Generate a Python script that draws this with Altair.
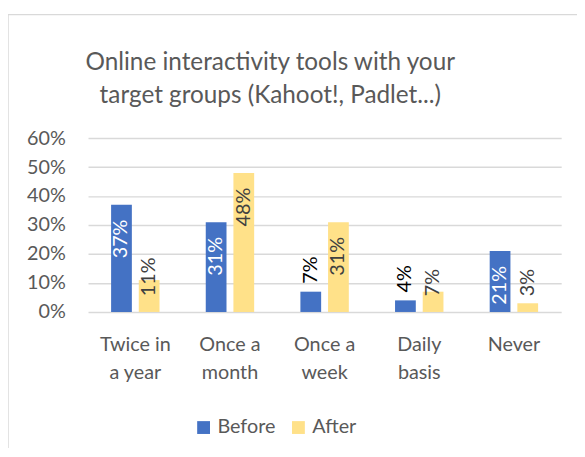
import altair as alt
import pandas as pd

categories = ["Twice in a year", "Once a month", "Once a week", "Daily basis", "Never"]
category_lines = [["Twice in", "a year"], ["Once a", "month"], ["Once a", "week"], ["Daily", "basis"], ["Never"]]
series = ["Before", "After"]
before = [0.37, 0.31, 0.07, 0.04, 0.21]
after = [0.11, 0.48, 0.31, 0.07, 0.03]
colors = ["#4472C4", "#FFE189"]
y_ticks = [0, 0.1, 0.2, 0.3, 0.4, 0.5, 0.6]
title_lines = ["Online interactivity tools with your", "target groups (Kahoot!, Padlet...)"]

rows = []
for i, c in enumerate(categories):
    rows.append({"category": c, "series": "Before", "value": before[i]})
    rows.append({"category": c, "series": "After", "value": after[i]})
df = pd.DataFrame(rows)

# label expression for wrapped category names
expr = "''"
for c, lines in zip(reversed(categories), reversed(category_lines)):
    arr = "[" + ",".join("'" + l + "'" for l in lines) + "]"
    expr = f"datum.label == '{c}' ? {arr} : ({expr})"

FONT = "Lato"
GRAY = "#595959"

x_enc = alt.X(
    "category:N",
    sort=categories,
    title=None,
    scale=alt.Scale(paddingInner=0.4885, paddingOuter=0.244),
    axis=alt.Axis(
        labelExpr=expr,
        labelAngle=0,
        labelFontSize=20,
        labelColor=GRAY,
        labelFont=FONT,
        labelLineHeight=28,
        labelPadding=23,
        ticks=False,
        domain=False,
        grid=False,
    ),
)
xoff = alt.XOffset("series:N", sort=series, scale=alt.Scale(paddingInner=0.25, paddingOuter=0))
y_scale = alt.Scale(domain=[0, 0.6], nice=False)
y_axis = alt.Axis(
    values=y_ticks,
    format=".0%",
    labelFontSize=20,
    labelColor=GRAY,
    labelFont=FONT,
    labelPadding=23,
    labelOverlap=False,
    labelBound=False,
    labelFlush=False,
    ticks=False,
    domain=False,
    gridColor="#d9d9d9",
    gridWidth=1.5,
)
y_enc = alt.Y("value:Q", scale=y_scale, title=None, axis=y_axis)
txt = alt.Text("value:Q", format=".0%")

base = alt.Chart(df)

bars = base.mark_bar().encode(
    x=x_enc,
    xOffset=xoff,
    y=y_enc,
    color=alt.Color(
        "series:N",
        sort=series,
        scale=alt.Scale(domain=series, range=colors),
        legend=alt.Legend(
            title=None,
            orient="none",
            direction="horizontal",
            legendX=107,
            legendY=283,
            symbolType="square",
            symbolSize=169,
            symbolStrokeWidth=0,
            labelFontSize=20,
            labelFont=FONT,
            labelColor=GRAY,
            labelOffset=4,
            columnPadding=13,
        ),
    ),
)

inside = base.transform_filter("datum.value >= 0.15")
inside_before = inside.transform_filter("datum.series == 'Before'").mark_text(
    angle=270, align="right", baseline="middle", dx=-15, fontSize=20, font=FONT, color="white"
).encode(x=x_enc, xOffset=xoff, y=y_enc, text=txt)
inside_after = inside.transform_filter("datum.series == 'After'").mark_text(
    angle=270, align="right", baseline="middle", dx=-15, fontSize=20, font=FONT, color="#404040"
).encode(x=x_enc, xOffset=xoff, y=y_enc, text=txt)

small = base.transform_filter("datum.value < 0.15")
small_before = small.transform_filter("datum.series == 'Before'").mark_text(
    angle=270, align="left", baseline="middle", dx=8, fontSize=20, font=FONT, color="black"
).encode(x=x_enc, xOffset=xoff, y=y_enc, text=txt)
small_after = small.transform_filter("datum.series == 'After'").transform_calculate(
    base0="0"
).mark_text(
    angle=270, align="left", baseline="middle", dx=16, fontSize=20, font=FONT, color="#404040"
).encode(
    x=x_enc, xOffset=xoff,
    y=alt.Y("base0:Q", scale=y_scale, title=None, axis=y_axis),
    text=txt,
)

frame = alt.Chart(pd.DataFrame({"f": [0]})).mark_rect(
    fill=None, stroke="#d9d9d9", strokeWidth=1.5
).encode(x=alt.value(-81), x2=alt.value(700), y=alt.value(-125), y2=alt.value(600))

chart = alt.layer(bars, inside_before, inside_after, small_before, small_after, frame).properties(
    width=479,
    height=176,
    padding={"left": 81, "top": 129, "right": 16, "bottom": 135},
    autosize=alt.AutoSizeParams(type="none"),
    title=alt.TitleParams(
        text=title_lines,
        fontSize=24.6,
        font=FONT,
        fontWeight="normal",
        color=GRAY,
        lineHeight=34,
        anchor="middle",
        dx=-55,
        offset=-96,
    ),
).configure_view(stroke=None)

chart.save("out.html", embed_options={"renderer": "svg", "actions": False})
